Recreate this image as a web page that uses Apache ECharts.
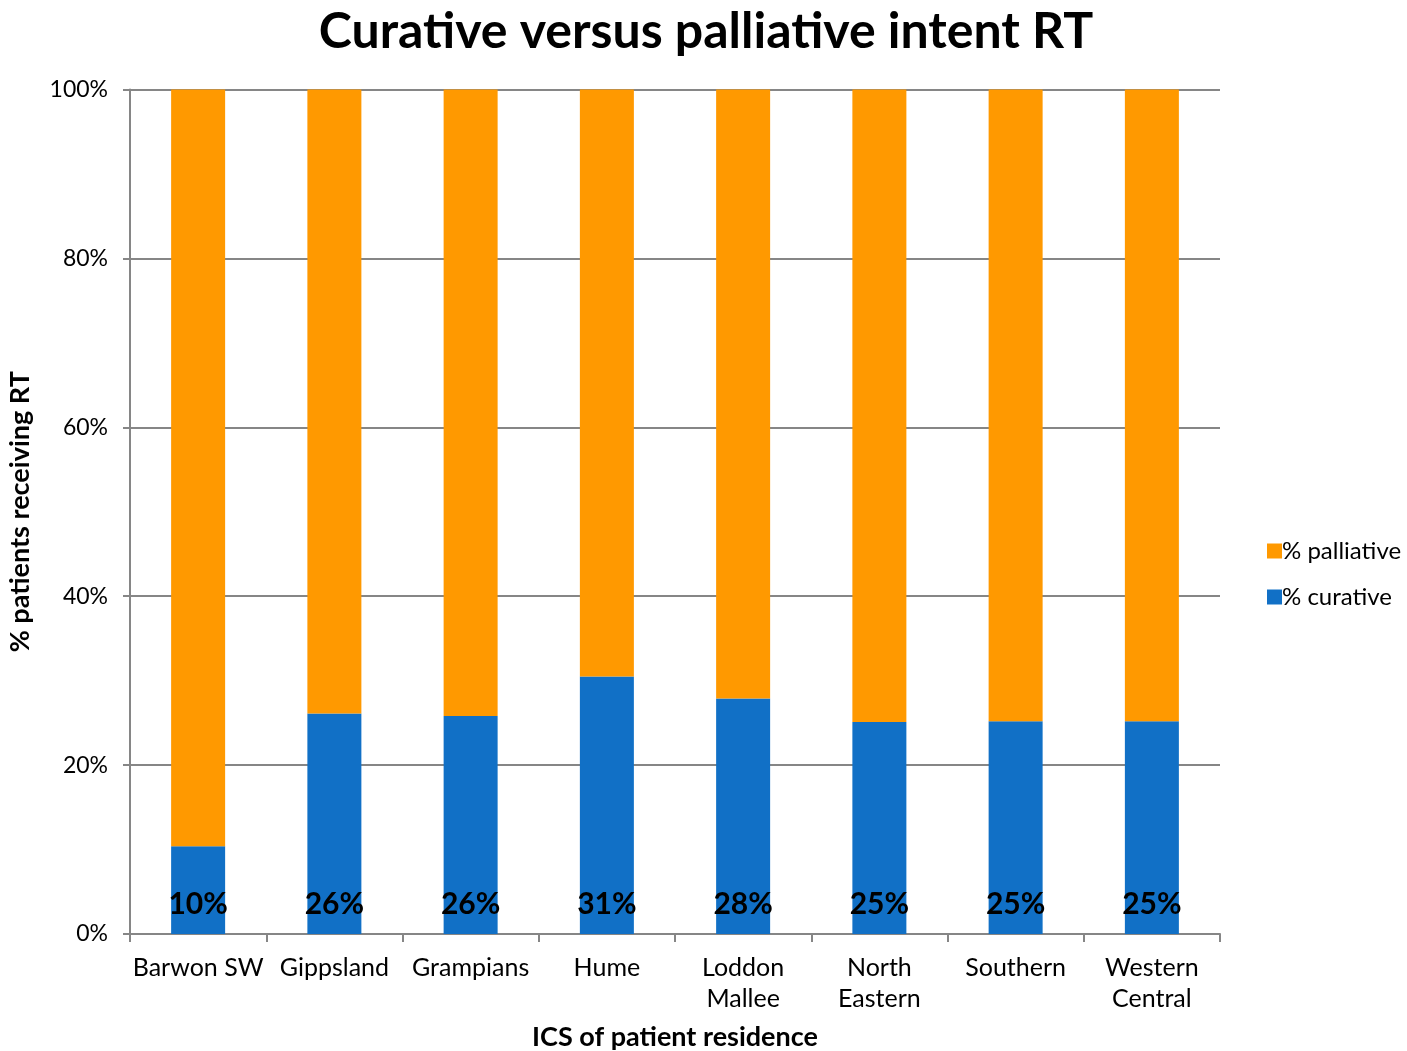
<!DOCTYPE html>
<html>
<head>
<meta charset="utf-8">
<style>
  html, body { margin: 0; padding: 0; background: #ffffff; overflow: hidden; }
  #chart { width: 1407px; height: 1051px; }
</style>
<script src="https://cdn.jsdelivr.net/npm/echarts@6/dist/echarts.min.js"></script>
</head>
<body>
<div id="chart"></div>
<script>
// Regions (Integrated Cancer Services) and share of RT courses by intent
const regions = ['Barwon SW', 'Gippsland', 'Grampians', 'Hume', 'Loddon\nMallee', 'North\nEastern', 'Southern', 'Western\nCentral'];
const curativePct = [10.4, 26.1, 25.8, 30.5, 27.9, 25.1, 25.2, 25.2];
const palliativePct = [89.6, 73.9, 74.2, 69.5, 72.1, 74.9, 74.8, 74.8];
const yTicks = [0, 20, 40, 60, 80, 100];

const FONT = 'Lato, "Open Sans", sans-serif';
const GREY = '#868686';

const chart = echarts.init(document.getElementById('chart'), null, { renderer: 'canvas', width: 1407, height: 1051 });

chart.setOption({
  backgroundColor: '#ffffff',
  animation: false,
  title: {
    text: 'Curative versus palliative intent RT',
    left: 701,
    textAlign: 'center',
    top: 2,
    textStyle: { fontFamily: FONT, fontWeight: 'bold', fontSize: 50, color: '#000' }
  },
  legend: {
    orient: 'vertical',
    left: 1262,
    top: 534,
    itemWidth: 15,
    itemHeight: 15,
    itemGap: 22,
    icon: 'rect',
    data: ['% palliative', '% curative'],
    textStyle: { fontFamily: FONT, fontSize: 24, color: '#000', padding: [0, 0, 0, -5] }
  },
  grid: {
    left: 130, width: 1090, top: 89.5, height: 844.5,
    containLabel: false,
    outerBoundsMode: 'none'
  },
  xAxis: {
    type: 'category',
    data: regions,
    name: 'ICS of patient residence',
    nameLocation: 'middle',
    nameGap: 90,
    nameTextStyle: { fontFamily: FONT, fontWeight: 'bold', fontSize: 27, color: '#000' },
    axisLine: { show: true, lineStyle: { color: GREY, width: 2 } },
    axisTick: { show: true, length: 8, alignWithLabel: false, lineStyle: { color: GREY, width: 2 } },
    axisLabel: { fontFamily: FONT, fontSize: 25, color: '#000', margin: 18, lineHeight: 31, interval: 0 }
  },
  yAxis: {
    type: 'value',
    min: 0,
    max: 100,
    interval: 20,
    name: '% patients receiving RT',
    nameLocation: 'middle',
    nameGap: 96,
    nameTextStyle: { fontFamily: FONT, fontWeight: 'bold', fontSize: 27, color: '#000' },
    axisLine: { show: true, lineStyle: { color: GREY, width: 2 } },
    axisTick: { show: true, length: 7, inside: false, lineStyle: { color: GREY, width: 2 } },
    splitLine: { show: true, lineStyle: { color: GREY, width: 2 } },
    axisLabel: {
      fontFamily: FONT, fontSize: 23, color: '#000', margin: 22,
      formatter: v => (yTicks.indexOf(v) >= 0 ? v + '%' : '')
    }
  },
  series: [
    {
      name: '% curative',
      type: 'bar',
      stack: 'intent',
      data: curativePct,
      barWidth: 54,
      itemStyle: { color: '#1170C6' },
      label: {
        show: true,
        position: 'insideBottom',
        distance: 15,
        fontFamily: FONT,
        fontWeight: 'bold',
        fontSize: 30,
        color: '#000',
        formatter: p => Math.round(p.value) + '%'
      }
    },
    {
      name: '% palliative',
      type: 'bar',
      stack: 'intent',
      data: palliativePct,
      barWidth: 54,
      itemStyle: { color: '#FF9900' }
    }
  ]
});
</script>
</body>
</html>
